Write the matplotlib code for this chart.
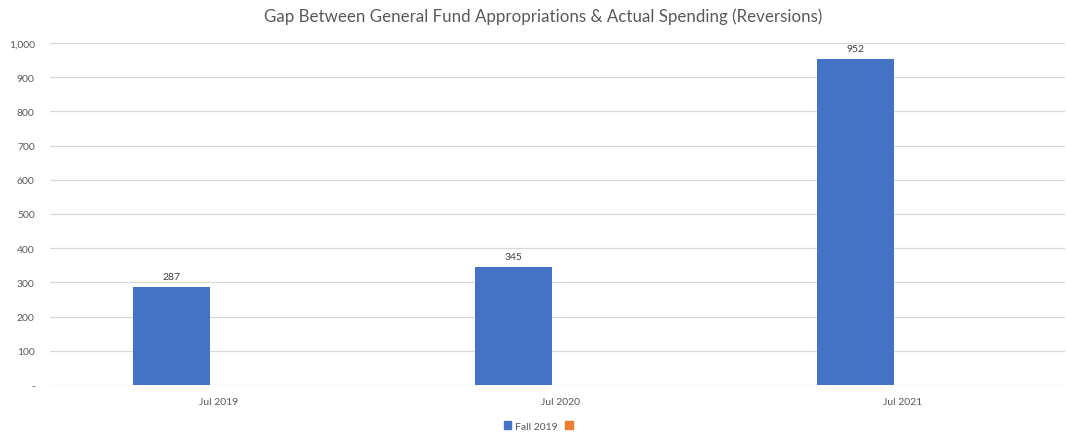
import matplotlib.pyplot as plt
from matplotlib.patches import Patch
from matplotlib.ticker import FuncFormatter

# data
categories = ["Jul 2019", "Jul 2020", "Jul 2021"]
fall_2019 = [287, 345, 952]
second_series = [0, 0, 0]  # unnamed orange series, empty
y_ticks = [0, 100, 200, 300, 400, 500, 600, 700, 800, 900, 1000]

blue = "#4472C4"
orange = "#ED7D31"
text_col = "#595959"
grid_col = "#D9D9D9"

plt.rcParams['font.family'] = ['Lato', 'DejaVu Sans']

fig = plt.figure(figsize=(10.66, 4.39), dpi=100)
ax = fig.add_axes([50 / 1066, 53 / 439, 1015 / 1066, 342 / 439])

x = list(range(len(categories)))
w = 0.225
off = 0.139
bars = ax.bar([i - off for i in x], fall_2019, width=w, color=blue, zorder=3)
ax.bar([i - off + w for i in x], second_series, width=w, color=orange, zorder=3)

for b, v in zip(bars, fall_2019):
    ax.text(b.get_x() + b.get_width() / 2, v + 18, f"{v:,}", ha="center",
            va="bottom", fontsize=7.5, color="#404040")

ax.set_xlim(-0.494, 2.474)
ax.set_ylim(0, 1000)
ax.set_yticks(y_ticks)
ax.yaxis.set_major_formatter(FuncFormatter(lambda v, p: "-" if v == 0 else f"{int(v):,}"))
ax.set_xticks(x)
ax.set_xticklabels(categories)
ax.tick_params(axis="both", length=0, labelsize=7.5, labelcolor=text_col)
ax.tick_params(axis="y", pad=11)
ax.tick_params(axis="x", pad=9)

ax.grid(axis="y", color=grid_col, linewidth=0.9, zorder=0)
for s in ax.spines.values():
    s.set_visible(False)

fig.suptitle("Gap Between General Fund Appropriations & Actual Spending (Reversions)",
             x=543 / 1066, y=1 - 17 / 439, va="center", fontsize=12.2, color=text_col)

handles = [Patch(color=blue), Patch(color=orange)]
fig.legend(handles, ["Fall 2019", ""], loc="center", bbox_to_anchor=(540 / 1066, 1 - 427 / 439),
           ncol=2, frameon=False, fontsize=7.5, labelcolor=text_col,
           handlelength=0.7, handleheight=0.7, handletextpad=0.3, columnspacing=0.8)

fig.savefig("out.png", dpi=100)
